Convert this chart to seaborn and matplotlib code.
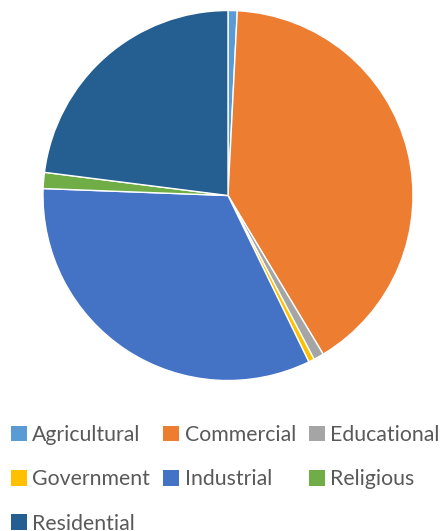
import matplotlib
matplotlib.use("Agg")
import matplotlib.pyplot as plt
import seaborn as sns
from matplotlib.patches import Patch

sns.set_theme(style="white")
plt.rcParams["font.family"] = ["Lato", "DejaVu Sans"]

# Dados
categorias = ["Agricultural", "Commercial", "Educational", "Government",
              "Industrial", "Religious", "Residential"]
valores = [0.8, 40.6, 0.9, 0.5, 32.8, 1.4, 23.0]
cores = ["#5B9BD5", "#ED7D31", "#A5A5A5", "#FFC000",
         "#4472C4", "#70AD47", "#255E91"]

fig = plt.figure(figsize=(4.46, 5.31), dpi=100)
ax = fig.add_axes([0.0964, 0.2834, 0.8296, 0.6968])

ax.pie(
    valores,
    colors=cores,
    startangle=90,
    counterclock=False,
    radius=1.0,
    wedgeprops=dict(edgecolor="white", linewidth=1.0),
)
ax.set_xlim(-1, 1)
ax.set_ylim(-1, 1)
ax.set_aspect("equal")
ax.axis("off")

# Legenda em 3 colunas, preenchida por linhas
handles = [Patch(facecolor=c, edgecolor="none") for c in cores]
ordem = [0, 3, 6, 1, 4, 2, 5]
leg = fig.legend(
    [handles[i] for i in ordem],
    [categorias[i] for i in ordem],
    ncol=3,
    loc="upper left",
    bbox_to_anchor=(0.025, 0.200),
    borderaxespad=0,
    frameon=False,
    fontsize=15.3,
    handlelength=0.75,
    handleheight=0.75,
    handletextpad=0.25,
    columnspacing=0.62,
    labelspacing=1.15,
    borderpad=0,
)
for t in leg.get_texts():
    t.set_color("#595959")

fig.savefig("out.png", dpi=100)
